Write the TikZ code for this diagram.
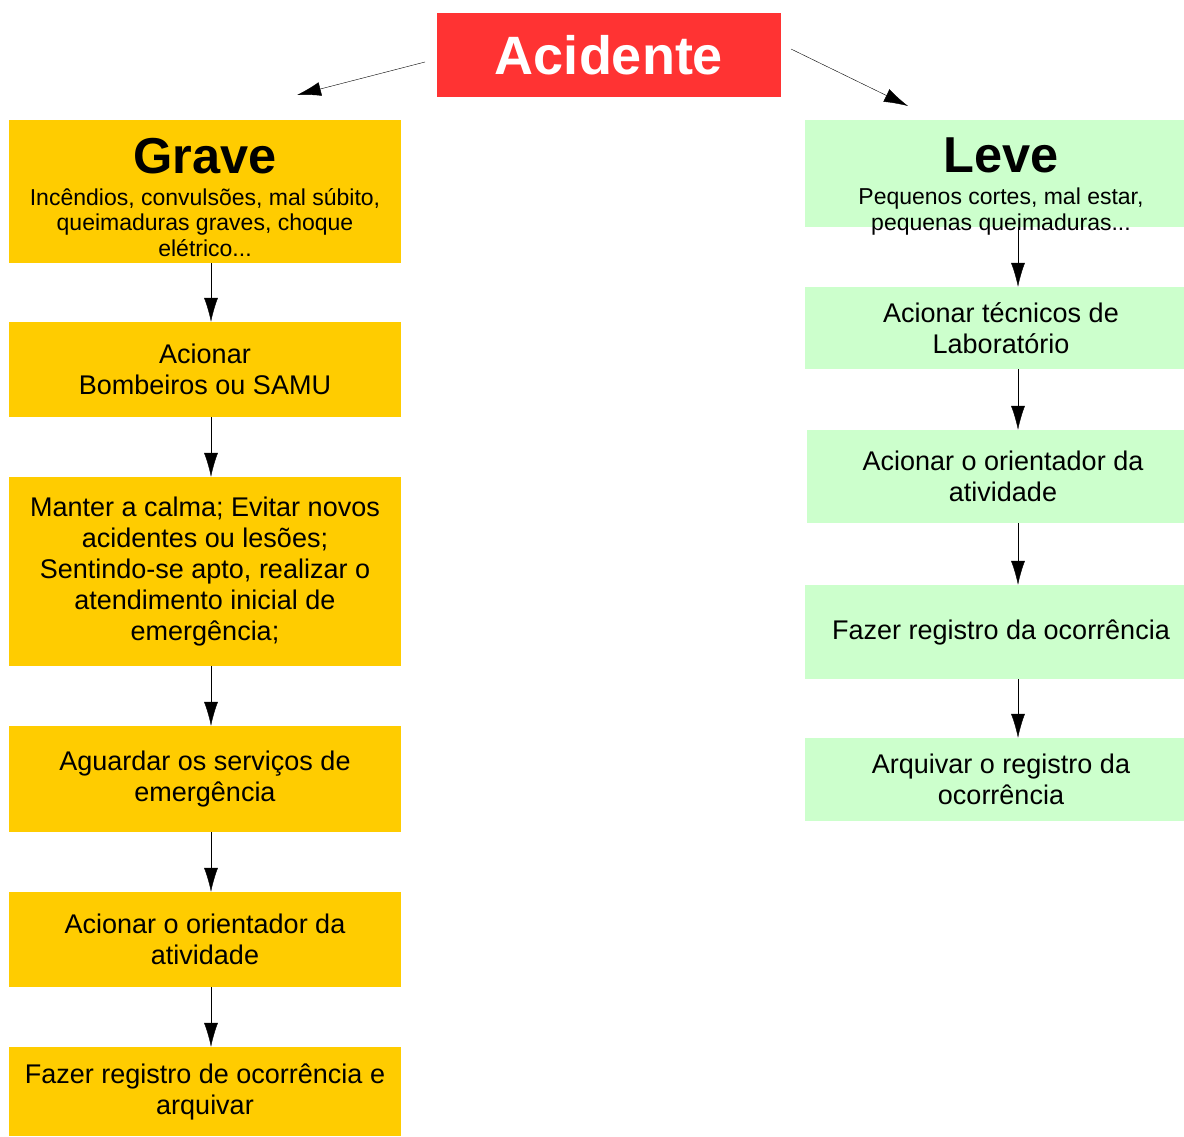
\documentclass[tikz,border=0pt]{standalone}
\usepackage{fontspec}
\setmainfont{Liberation Sans}
\usetikzlibrary{arrows.meta}

\definecolor{vermelho}{HTML}{FF3333}
\definecolor{amarelo}{HTML}{FFCC00}
\definecolor{verde}{HTML}{CCFFCC}

\newcommand{\corpo}{\fontsize{27}{31}\selectfont}
\newcommand{\miudo}{\fontsize{23}{25.5}\selectfont}
\newcommand{\titulo}{\fontsize{50.5}{56}\selectfont\bfseries}

\tikzset{
	caixa/.style={rectangle, inner sep=0, align=center, font=\corpo},
	grave/.style={caixa, fill=amarelo, minimum width=392},
	leve/.style={caixa, fill=verde, minimum width=392},
	seta/.style={-{Latex[length=24,width=14]}, thin}
}

\begin{document}
\begin{tikzpicture}[x=1pt,y=-1pt]
	\useasboundingbox (0,0) rectangle (1184,1136);

	\node [caixa, fill=vermelho, text=white, minimum width=344, minimum height=84,
		font=\fontsize{54}{60}\selectfont\bfseries] (acidente) at (609, 55) {Acidente};

	% coluna da esquerda
	\node [grave, minimum height=143] (gr) at (205, 191.5) {};
	\node [caixa, anchor=north] (grtexto) at (205, 138)
		{{\titulo Grave}\\[1pt]
		{\miudo Incêndios, convulsões, mal súbito,}\\[-5.5pt]
		{\miudo queimaduras graves, choque}\\[-5.5pt]
		{\miudo elétrico...}};
	\node [grave, minimum height=95] (bombeiros) at (205, 369.5)
		{Acionar\\Bombeiros ou SAMU};
	\node [grave, minimum height=189] (calma) at (205, 571.5)
		{Manter a calma; Evitar novos\\acidentes ou lesões;\\Sentindo-se apto, realizar o\\
		atendimento inicial de\\emergência;};
	\node [grave, minimum height=106] (aguardar) at (205, 779)
		{Aguardar os serviços de\\emergência};
	\node [grave, minimum height=95] (orientg) at (205, 939.5)
		{Acionar o orientador da\\atividade};
	\node [grave, minimum height=89] (registrog) at (205, 1091.5)
		{Fazer registro de ocorrência e\\arquivar};

	% coluna da direita
	\node [leve, minimum height=107] (lv) at (1001, 173.5) {};
	\node [caixa, anchor=north] (lvtexto) at (1001, 138)
		{{\titulo Leve}\\[1pt]
		{\miudo Pequenos cortes, mal estar,}\\[-5.5pt]
		{\miudo pequenas queimaduras...}};
	\node [leve, minimum height=82] (tecnicos) at (1001, 328)
		{Acionar técnicos de\\Laboratório};
	\node [leve, minimum height=93] (orientl) at (1003, 476.5)
		{Acionar o orientador da\\atividade};
	\node [leve, minimum height=94] (registrol) at (1001, 632)
		{Fazer registro da ocorrência};
	\node [leve, minimum height=83] (arquivar) at (1001, 779.5)
		{Arquivar o registro da\\ocorrência};

	% setas
	\coordinate (saidae) at (425, 62);
	\coordinate (chegadae) at (297, 95);
	\coordinate (saidad) at (791, 49);
	\coordinate (chegadad) at (908, 106);
	\draw [seta] (saidae) -- (chegadae);
	\draw [seta] (saidad) -- (chegadad);

	\draw [seta] ([xshift=6]gr.south) -- ([xshift=6]bombeiros.north);
	\draw [seta] ([xshift=6]bombeiros.south) -- ([xshift=6]calma.north);
	\draw [seta] ([xshift=6]calma.south) -- ([xshift=6]aguardar.north);
	\draw [seta] ([xshift=6]aguardar.south) -- ([xshift=6]orientg.north);
	\draw [seta] ([xshift=6]orientg.south) -- ([xshift=6]registrog.north);

	\draw [seta] ([xshift=17]lv.south) -- ([xshift=17]tecnicos.north);
	\draw [seta] ([xshift=17]tecnicos.south) -- ([xshift=15]orientl.north);
	\draw [seta] ([xshift=15]orientl.south) -- ([xshift=17]registrol.north);
	\draw [seta] ([xshift=17]registrol.south) -- ([xshift=17]arquivar.north);
\end{tikzpicture}
\end{document}
